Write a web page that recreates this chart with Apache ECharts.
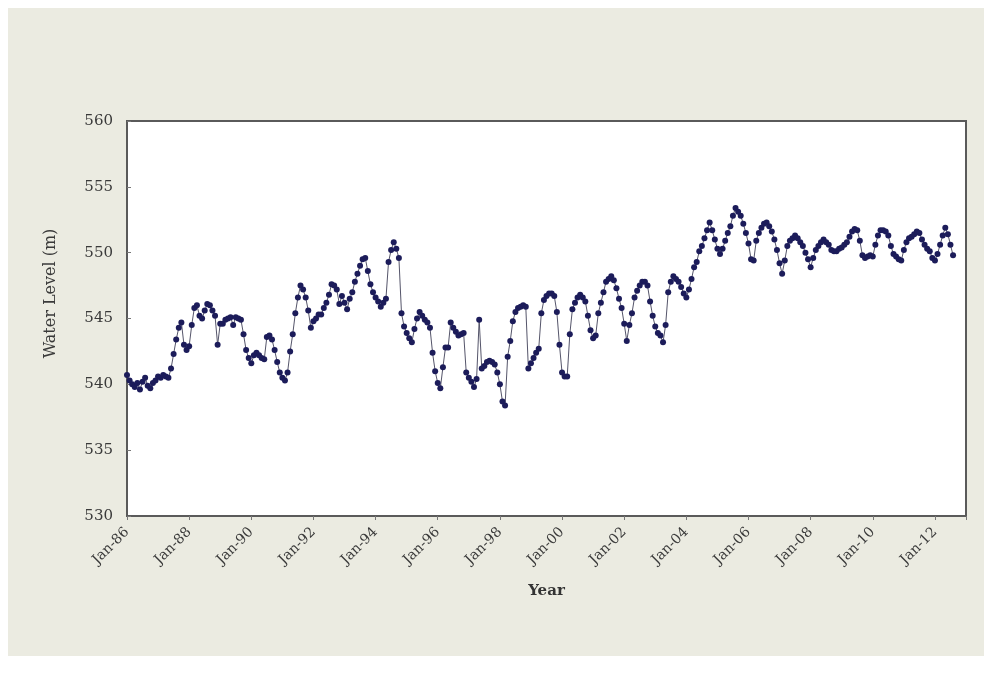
<!DOCTYPE html>
<html>
<head>
<meta charset="utf-8">
<script src="https://cdn.jsdelivr.net/npm/echarts@6/dist/echarts.min.js"></script>
<style>
  html, body { margin: 0; padding: 0; background: #ffffff; }
  #chart { position: absolute; left: 8px; top: 8px; width: 976px; height: 648px; background: #EBEBE1; }
</style>
</head>
<body>
<div id="chart"></div>
<script>
// Monthly water level (m), starting Jan-86
const startLabel = 'Jan-86';
const levels = [
  540.7, 540.3, 540.0, 539.8, 540.1, 539.6, 540.2, 540.5, 539.9, 539.7, 540.1, 540.3,
  540.6, 540.5, 540.7, 540.6, 540.5, 541.2, 542.3, 543.4, 544.3, 544.7, 543.0, 542.6,
  542.9, 544.5, 545.8, 546.0, 545.2, 545.0, 545.6, 546.1, 546.0, 545.6, 545.2, 543.0,
  544.6, 544.6, 544.9, 545.0, 545.1, 544.5, 545.1, 545.0, 544.9, 543.8, 542.6, 542.0,
  541.6, 542.2, 542.4, 542.2, 542.0, 541.9, 543.6, 543.7, 543.4, 542.6, 541.7, 540.9,
  540.5, 540.3, 540.9, 542.5, 543.8, 545.4, 546.6, 547.5, 547.2, 546.6, 545.6, 544.3,
  544.8, 545.0, 545.3, 545.3, 545.8, 546.2, 546.8, 547.6, 547.5, 547.2, 546.1, 546.7,
  546.2, 545.7, 546.5, 547.0, 547.8, 548.4, 549.0, 549.5, 549.6, 548.6, 547.6, 547.0,
  546.6, 546.3, 545.9, 546.2, 546.5, 549.3, 550.2, 550.8, 550.3, 549.6, 545.4, 544.4,
  543.9, 543.5, 543.2, 544.2, 545.0, 545.5, 545.2, 544.9, 544.7, 544.3, 542.4, 541.0,
  540.1, 539.7, 541.3, 542.8, 542.8, 544.7, 544.3, 544.0, 543.7, 543.8, 543.9, 540.9,
  540.5, 540.2, 539.8, 540.4, 544.9, 541.2, 541.4, 541.7, 541.8, 541.7, 541.5, 540.9,
  540.0, 538.7, 538.4, 542.1, 543.3, 544.8, 545.5, 545.8, 545.9, 546.0, 545.9, 541.2,
  541.6, 542.0, 542.4, 542.7, 545.4, 546.4, 546.7, 546.9, 546.9, 546.7, 545.5, 543.0,
  540.9, 540.6, 540.6, 543.8, 545.7, 546.2, 546.6, 546.8, 546.6, 546.3, 545.2, 544.1,
  543.5, 543.7, 545.4, 546.2, 547.0, 547.8, 548.0, 548.2, 547.9, 547.3, 546.5, 545.8,
  544.6, 543.3, 544.5, 545.4, 546.6, 547.1, 547.5, 547.8, 547.8, 547.5, 546.3, 545.2,
  544.4, 543.9, 543.7, 543.2, 544.5, 547.0, 547.8, 548.2, 548.0, 547.8, 547.4, 546.9,
  546.6, 547.2, 548.0, 548.9, 549.3, 550.1, 550.5, 551.1, 551.7, 552.3, 551.7, 551.0,
  550.3, 549.9, 550.3, 550.9, 551.5, 552.0, 552.8, 553.4, 553.1, 552.8, 552.2, 551.5,
  550.7, 549.5, 549.4, 550.9, 551.5, 551.9, 552.2, 552.3, 552.0, 551.6, 551.0, 550.2,
  549.2, 548.4, 549.4, 550.5, 550.9, 551.1, 551.3, 551.1, 550.8, 550.5, 550.0, 549.5,
  548.9, 549.6, 550.2, 550.5, 550.8, 551.0, 550.8, 550.6, 550.2, 550.1, 550.1, 550.3,
  550.4, 550.6, 550.8, 551.2, 551.6, 551.8, 551.7, 550.9, 549.8, 549.6, 549.7, 549.8,
  549.7, 550.6, 551.3, 551.7, 551.7, 551.6, 551.3, 550.5, 549.9, 549.7, 549.5, 549.4,
  550.2, 550.8, 551.1, 551.2, 551.4, 551.6, 551.5, 551.0, 550.6, 550.3, 550.1, 549.6,
  549.4, 549.9, 550.6, 551.3, 551.9, 551.4, 550.6, 549.8
];
// x tick labels, one every 24 months
const xTickLabels = ['Jan-86','Jan-88','Jan-90','Jan-92','Jan-94','Jan-96','Jan-98',
                     'Jan-00','Jan-02','Jan-04','Jan-06','Jan-08','Jan-10','Jan-12'];
const yTicks = [530, 535, 540, 545, 550, 555, 560];

const chart = echarts.init(document.getElementById('chart'));
const serif = '"DejaVu Serif", "Liberation Serif", serif';
chart.setOption({
  animation: false,
  backgroundColor: '#EBEBE1',
  grid: {
    left: 119, right: 18, top: 113, bottom: 140,
    show: true, backgroundColor: '#ffffff', borderColor: '#5a5a5a', borderWidth: 2
  },
  xAxis: {
    type: 'value', min: 0, max: 324, interval: 24,
    name: 'Year', nameLocation: 'middle', nameGap: 68,
    nameTextStyle: { fontFamily: serif, fontSize: 15, fontWeight: 'bold', color: '#333' },
    axisLine: { show: true, onZero: false, lineStyle: { color: '#5a5a5a', width: 2 } },
    axisTick: { show: true, length: 4, lineStyle: { color: '#777' } },
    splitLine: { show: false },
    axisLabel: {
      rotate: 45, margin: 14, fontFamily: serif, fontSize: 14, color: '#3a3a3a',
      formatter: v => xTickLabels[Math.round(v / 24)] || ''
    }
  },
  yAxis: {
    type: 'value', min: yTicks[0], max: yTicks[yTicks.length - 1], interval: 5,
    name: 'Water Level (m)', nameLocation: 'middle', nameGap: 68,
    nameTextStyle: { fontFamily: serif, fontSize: 16, color: '#3a3a3a', padding: [0, 0, 0, 50] },
    axisLine: { show: true, lineStyle: { color: '#5a5a5a', width: 2 } },
    axisTick: { show: true, inside: true, length: 4, lineStyle: { color: '#777' } },
    splitLine: { show: false },
    axisLabel: { margin: 14, fontFamily: serif, fontSize: 15, color: '#3a3a3a' }
  },
  series: [{
    type: 'line',
    data: levels.map((v, i) => [i, v]),
    symbol: 'circle', symbolSize: 6,
    lineStyle: { color: '#55556a', width: 1 },
    itemStyle: { color: '#1c1c5a' }
  }]
});
</script>
</body>
</html>
